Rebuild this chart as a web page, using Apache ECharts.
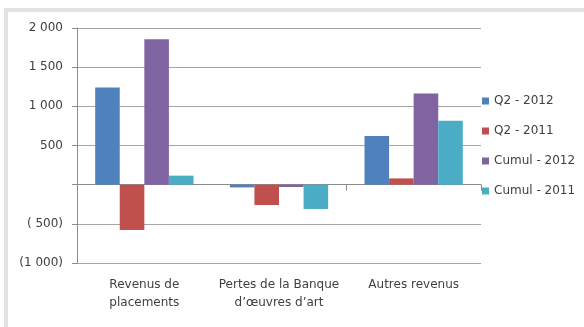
<!DOCTYPE html>
<html>
<head>
<meta charset="utf-8">
<script src="https://cdn.jsdelivr.net/npm/echarts@6/dist/echarts.min.js"></script>
<style>
  html, body { margin: 0; padding: 0; background: #ffffff; }
  #chart { width: 584px; height: 327px; }
</style>
</head>
<body>
<div id="chart"></div>
<script>
// Categories and series values (in thousands)
const categories = ['Revenus de\nplacements', 'Pertes de la Banque\nd\u2019\u0153uvres d\u2019art', 'Autres revenus'];
const seriesNames = ['Q2 - 2012', 'Q2 - 2011', 'Cumul - 2012', 'Cumul - 2011'];
const q2_2012 = [1240, -35, 620];
const q2_2011 = [-580, -260, 80];
const cumul_2012 = [1855, -30, 1165];
const cumul_2011 = [115, -310, 815];
const yTicks = [-1000, -500, 0, 500, 1000, 1500, 2000];

const colors = ['#4F81BD', '#C0504D', '#8064A2', '#4BACC6'];
const font = 'DejaVu Sans';
const textColor = '#404040';

// Accounting style: "1 000", "( 500)", zero left blank
function fmt(v) {
  if (v === 0) return '';
  const a = Math.abs(v);
  if (a >= 1000) {
    const s = Math.floor(a / 1000) + ' ' + String(a % 1000).padStart(3, '0');
    return v < 0 ? '(' + s + ')' : s;
  }
  return v < 0 ? '( ' + a + ')' : String(a);
}

const allValues = [q2_2012, q2_2011, cumul_2012, cumul_2011];

const chart = echarts.init(document.getElementById('chart'), null, { renderer: 'canvas' });
chart.setOption({
  animation: false,
  color: colors,
  graphic: [
    { type: 'rect', shape: { x: 4, y: 8, width: 580, height: 4 }, style: { fill: '#e3e3e3' } },
    { type: 'rect', shape: { x: 4, y: 8, width: 4, height: 319 }, style: { fill: '#e3e3e3' } }
  ],
  grid: { left: 77, right: 103, top: 28, bottom: 64 },
  legend: {
    orient: 'vertical',
    left: 482,
    top: 95,
    padding: 0,
    itemWidth: 7,
    itemHeight: 7,
    itemGap: 18,
    icon: 'rect',
    textStyle: { fontFamily: font, fontSize: 12, color: textColor },
    data: seriesNames
  },
  xAxis: [
    {
      type: 'category',
      data: categories,
      axisLine: { onZero: true, lineStyle: { color: '#8c8c8c', width: 1 } },
      axisTick: { show: true, length: 6, lineStyle: { color: '#8c8c8c' } },
      axisLabel: { show: false }
    },
    {
      type: 'category',
      data: categories,
      position: 'bottom',
      axisLine: { show: false, onZero: false },
      axisTick: { show: false },
      axisLabel: { interval: 0, fontFamily: font, fontSize: 12, color: textColor, lineHeight: 18, margin: 13 }
    }
  ],
  yAxis: {
    type: 'value',
    min: -1000,
    max: 2000,
    interval: 500,
    axisLine: { show: true, lineStyle: { color: '#8c8c8c' } },
    axisTick: { show: true, length: 5, lineStyle: { color: '#8c8c8c' } },
    splitLine: { lineStyle: { color: '#a6a6a6', width: 1 } },
    axisLabel: {
      fontFamily: font, fontSize: 12, color: textColor, margin: 14,
      formatter: v => yTicks.includes(v) ? fmt(v) : ''
    }
  },
  series: seriesNames.map((name, i) => ({
    name: name,
    type: 'bar',
    xAxisIndex: 0,
    data: allValues[i],
    barGap: '0%',
    barCategoryGap: '27%'
  }))
});
</script>
</body>
</html>
